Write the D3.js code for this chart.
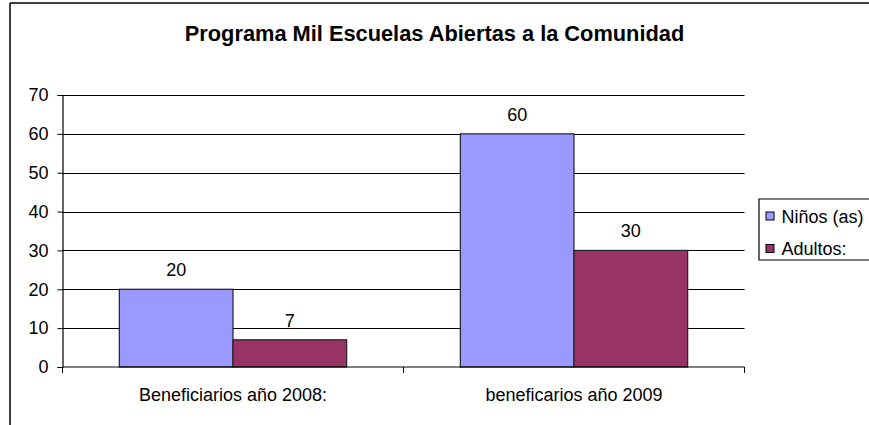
<!DOCTYPE html>
<html>
<head>
<meta charset="utf-8">
<script src="https://cdn.jsdelivr.net/npm/d3@7"></script>
<style>
  html, body { margin: 0; padding: 0; background: #fff; overflow: hidden; }
  svg { display: block; overflow: hidden; }
  text { font-family: "Liberation Sans", Arial, sans-serif; fill: #000; }
</style>
</head>
<body>
<script>
"use strict";

// chart data
const categories = ["Beneficiarios año 2008:", "beneficarios año 2009"];
const seriesNames = ["Niños (as)", "Adultos:"];
const ninos = [20, 60];
const adultos = [7, 30];
const yTicks = [0, 10, 20, 30, 40, 50, 60, 70];
const colors = ["#9999FF", "#993366"];
const title = "Programa Mil Escuelas Abiertas a la Comunidad";

const W = 869, H = 425;
const plot = {left: 62.5, right: 744.5, top: 95, bottom: 367};

const svg = d3.select("body").append("svg")
    .attr("width", W)
    .attr("height", H);

// outer frame: only the left and top edges fall inside the picture
const frame = svg.append("g");
frame.append("line")
    .attr("x1", 10).attr("x2", 10)
    .attr("y1", 3).attr("y2", H)
    .attr("stroke", "#000").attr("stroke-width", 1.5);
frame.append("line")
    .attr("x1", 10).attr("x2", W)
    .attr("y1", 3).attr("y2", 3)
    .attr("stroke", "#000").attr("stroke-width", 1.5);

svg.append("text")
    .attr("x", 434.5).attr("y", 41)
    .attr("text-anchor", "middle")
    .style("font-size", "21.8px")
    .style("font-weight", "bold")
    .text(title);

const x0 = d3.scaleBand()
    .domain(categories)
    .range([plot.left, plot.right])
    .padding(0);

const x1 = d3.scaleBand()
    .domain(seriesNames)
    .range([x0.bandwidth() / 6, x0.bandwidth() * 5 / 6])
    .padding(0);

const y = d3.scaleLinear()
    .domain([0, 70])
    .range([plot.bottom, plot.top]);

// gridlines
svg.append("g").selectAll("line")
    .data(yTicks.filter(d => d > 0))
    .enter().append("line")
    .attr("x1", plot.left).attr("x2", plot.right)
    .attr("y1", d => Math.round(y(d)) + 0.5)
    .attr("y2", d => Math.round(y(d)) + 0.5)
    .attr("stroke", "#000")
    .attr("stroke-width", 1);

// bars
const rows = categories.map((c, i) => ({cat: c, values: [ninos[i], adultos[i]]}));

const groups = svg.append("g").selectAll("g")
    .data(rows)
    .enter().append("g")
    .attr("transform", d => "translate(" + x0(d.cat) + ",0)");

groups.selectAll("rect")
    .data(d => d.values.map((v, j) => ({name: seriesNames[j], value: v, j: j})))
    .enter().append("rect")
    .attr("x", d => x1(d.name))
    .attr("y", d => y(d.value))
    .attr("width", x1.bandwidth())
    .attr("height", d => y(0) - y(d.value))
    .attr("fill", d => colors[d.j])
    .attr("stroke", "#222")
    .attr("stroke-width", 1.2);

groups.selectAll(".lbl")
    .data(d => d.values.map((v, j) => ({name: seriesNames[j], value: v})))
    .enter().append("text")
    .attr("class", "lbl")
    .attr("x", d => x1(d.name) + x1.bandwidth() / 2)
    .attr("y", d => y(d.value) - 13)
    .attr("text-anchor", "middle")
    .style("font-size", "18px")
    .text(d => d.value);

// y axis
const yAxis = svg.append("g")
    .attr("transform", "translate(" + plot.left + ",0)")
    .call(d3.axisLeft(y).tickValues(yTicks).tickSize(5).tickPadding(9));
yAxis.select(".domain").attr("stroke", "#000").attr("stroke-width", 1.2);
yAxis.selectAll(".tick line").attr("stroke", "#000");
yAxis.selectAll(".tick text")
    .style("font-size", "18px")
    .style("font-family", "'Liberation Sans', Arial, sans-serif")
    .attr("fill", "#000");

// x axis: ticks between categories
const xAxis = svg.append("g")
    .attr("transform", "translate(0," + plot.bottom + ")");
xAxis.append("line")
    .attr("x1", plot.left).attr("x2", plot.right)
    .attr("stroke", "#000").attr("stroke-width", 1.2);
const bounds = categories.map(c => x0(c)).concat([plot.right]);
xAxis.selectAll(".tk")
    .data(bounds)
    .enter().append("line")
    .attr("class", "tk")
    .attr("x1", d => d).attr("x2", d => d)
    .attr("y1", 0).attr("y2", 6)
    .attr("stroke", "#000");
xAxis.selectAll(".cl")
    .data(categories)
    .enter().append("text")
    .attr("class", "cl")
    .attr("x", d => x0(d) + x0.bandwidth() / 2)
    .attr("y", 34)
    .attr("text-anchor", "middle")
    .style("font-size", "18px")
    .text(d => d);

// legend: box runs off the right edge, so draw only its left, top and bottom
const legend = svg.append("g").attr("transform", "translate(759,199)");
legend.append("rect")
    .attr("x", 0).attr("y", 0)
    .attr("width", W - 759).attr("height", 61)
    .attr("fill", "#fff");
legend.append("path")
    .attr("d", "M" + (W - 759) + ",0H0V61H" + (W - 759))
    .attr("fill", "none")
    .attr("stroke", "#000")
    .attr("stroke-width", 1.2);
const items = legend.selectAll(".item")
    .data(seriesNames)
    .enter().append("g")
    .attr("class", "item")
    .attr("transform", (d, i) => "translate(0," + (i * 32.5) + ")");
items.append("rect")
    .attr("x", 7).attr("y", 13)
    .attr("width", 8).attr("height", 8)
    .attr("fill", (d, i) => colors[i])
    .attr("stroke", "#000")
    .attr("stroke-width", 1);
items.append("text")
    .attr("x", 22.5).attr("y", 23.5)
    .style("font-size", "18px")
    .text(d => d);
</script>
</body>
</html>
